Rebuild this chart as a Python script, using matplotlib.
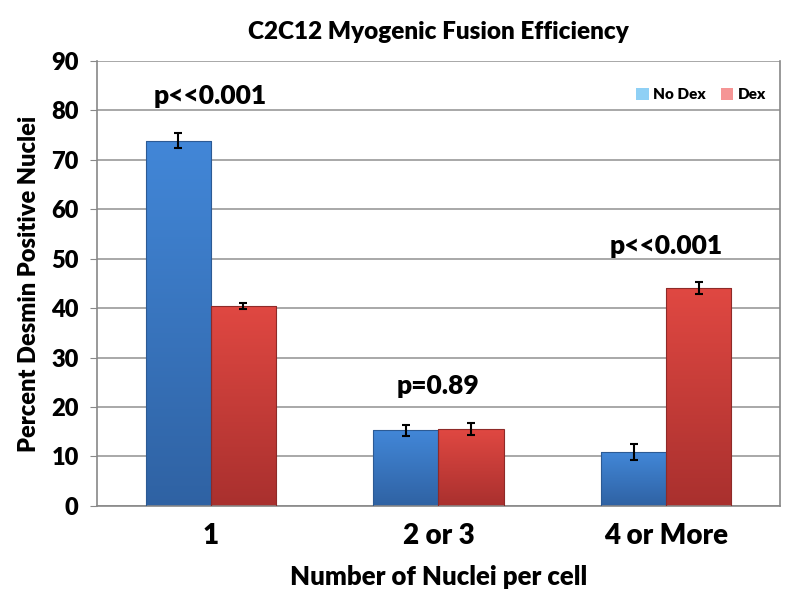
import numpy as np
import matplotlib
matplotlib.use('Agg')
import matplotlib.pyplot as plt
from matplotlib.colors import LinearSegmentedColormap
from matplotlib.patches import Patch

plt.rcParams['font.family'] = ['Lato', 'DejaVu Sans']
plt.rcParams['font.weight'] = 'heavy'

categories = ['1', '2 or 3', '4 or More']
no_dex = [73.9, 15.3, 10.9]
no_dex_err = [1.5, 1.1, 1.6]
dex = [40.5, 15.5, 44.0]
dex_err = [0.6, 1.2, 1.2]
p_labels = ['p<<0.001', 'p=0.89', 'p<<0.001']
p_y = [83, 24.3, 52.5]


def gradient_bars(ax, bars, top, bottom):
    cmap = LinearSegmentedColormap.from_list('g', [bottom, top])
    for b in bars:
        x0, y0 = b.get_x(), b.get_y()
        w, h = b.get_width(), b.get_height()
        grad = np.linspace(0, 1, 256).reshape(-1, 1)
        im = ax.imshow(grad, cmap=cmap, origin='lower', aspect='auto',
                       extent=(x0, x0 + w, y0, y0 + h), zorder=2)
        im.set_clip_path(b)
        b.set_facecolor('none')


fig = plt.figure(figsize=(8, 5.98), dpi=100)
ax = fig.add_axes([0.121, 0.154, 0.854, 0.744])

x = np.arange(len(categories))
width = 0.286
b1 = ax.bar(x - width / 2, no_dex, width, edgecolor='#2c5a94', linewidth=0.8, zorder=3)
b2 = ax.bar(x + width / 2, dex, width, edgecolor='#8e2a28', linewidth=0.8, zorder=3)
gradient_bars(ax, b1, '#4287d8', '#2f62a3')
gradient_bars(ax, b2, '#e04842', '#a9302e')
ax.errorbar(x - width / 2, no_dex, yerr=no_dex_err, fmt='none', ecolor='black',
            elinewidth=1.5, capsize=3, capthick=1.5, zorder=4)
ax.errorbar(x + width / 2, dex, yerr=dex_err, fmt='none', ecolor='black',
            elinewidth=1.5, capsize=3, capthick=1.5, zorder=4)

for xi, lab, yy in zip(x, p_labels, p_y):
    ax.text(xi, yy, lab, ha='center', va='center', fontsize=19, fontweight='heavy')

ax.set_xlim(-0.5, 2.5)
ax.set_ylim(0, 90)
ax.set_yticks(np.arange(0, 91, 10))
ax.set_xticks(x)
ax.set_xticklabels(categories, fontsize=20, fontweight='heavy')
ax.tick_params(axis='y', labelsize=17, length=5, color='#888888', pad=8)
ax.tick_params(axis='x', length=0, pad=12)
ax.grid(True, axis='y', color='#999999', linewidth=1.2, zorder=0)
ax.set_axisbelow(True)
for s in ax.spines.values():
    s.set_color('#888888')
    s.set_linewidth(1.2)
ax.spines['top'].set_visible(False)

ax.set_ylabel('Percent Desmin Positive Nuclei', fontsize=17, fontweight='heavy', labelpad=8)
ax.set_xlabel('Number of Nuclei per cell', fontsize=18.5, fontweight='heavy', labelpad=12)
ax.set_title('C2C12 Myogenic Fusion Efficiency', fontsize=17.5, fontweight='heavy', pad=16)

handles = [Patch(facecolor='#8fd0f5', label='No Dex'), Patch(facecolor='#f59595', label='Dex')]
leg = ax.legend(handles=handles, loc='upper right', ncol=2, frameon=False,
                fontsize=11, handlelength=0.8, handleheight=0.8, handletextpad=0.3,
                columnspacing=1.0, bbox_to_anchor=(1.0, 0.97))

fig.savefig('out.png', dpi=100)
